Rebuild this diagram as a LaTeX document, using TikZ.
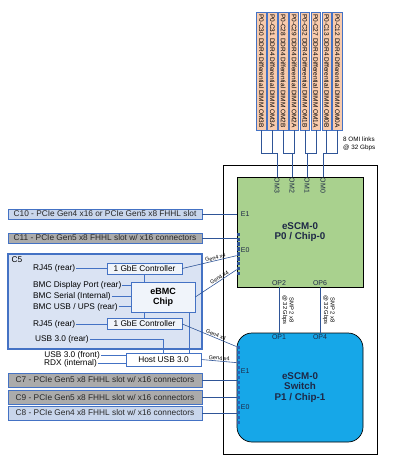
\documentclass[tikz,border=0pt]{standalone}
\usepackage{fontspec}
\setmainfont{Liberation Sans}
\usetikzlibrary{calc}
\definecolor{wireblue}{RGB}{47,85,151}
\definecolor{boxblue}{RGB}{68,114,196}
\definecolor{slotblue}{RGB}{201,214,236}
\definecolor{cfiveblue}{RGB}{218,227,243}
\definecolor{slotgray}{RGB}{171,171,171}
\definecolor{dimmpeach}{RGB}{248,203,173}
\definecolor{chipgreen}{RGB}{169,209,142}
\definecolor{chipcyan}{RGB}{22,167,232}
\definecolor{chiptext}{RGB}{30,40,70}
\definecolor{pinblue}{RGB}{46,84,150}
\definecolor{pincyan}{RGB}{40,100,180}
\tikzset{
  slotbox/.style={draw=boxblue, line width=0.8pt, minimum width=194pt, inner sep=0pt,
    font=\fontsize{8.3}{9}\selectfont, text=black!85},
  ctrlbox/.style={draw=boxblue, line width=0.6pt, fill=cfiveblue!40!white, minimum width=75pt,
    minimum height=11pt, inner sep=0pt, font=\fontsize{8.3}{9}\selectfont},
  txt/.style={inner sep=1pt, font=\fontsize{8.3}{9}\selectfont},
  bline/.style={draw=boxblue, line width=0.6pt},
  wire/.style={draw=wireblue, line width=0.6pt},
  dimm/.style={draw=boxblue, line width=0.7pt, fill=dimmpeach, rotate=-90, minimum width=118pt,
    minimum height=9.5pt, inner sep=0pt, font=\fontsize{6.5}{7}\selectfont},
  chipbox/.style={draw=black, line width=0.7pt, minimum width=126pt, align=center,
    text=chiptext, font=\bfseries\fontsize{9.8}{10.5}\selectfont},
  pinlbl/.style={inner sep=1pt, text=chiptext, font=\fontsize{7}{8}\selectfont},
  omlbl/.style={rotate=-90, inner sep=1pt, text=chiptext, font=\fontsize{7}{8}\selectfont},
  smplbl/.style={rotate=-90, align=center, inner sep=2.5pt, font=\fontsize{5.8}{6.6}\selectfont},
  genlbl/.style={inner sep=0.6pt, font=\fontsize{5.5}{6}\selectfont},
}
\begin{document}
\begin{tikzpicture}[x=1pt, y=-1pt]
\useasboundingbox (0,0) rectangle (401,462);

% eSCM module frame and the two chips
\draw[black, line width=0.8pt] (223,165) rectangle (377,454);
\node[chipbox, fill=chipgreen, minimum height=110pt] (chip0) at (300,232) {eSCM-0\\P0 / Chip-0};
\node[chipbox, fill=chipcyan, minimum height=109pt, rounded corners=15pt] (chip1) at (300,387.5)
  {eSCM-0\\Switch\\P1 / Chip-1};

% pin stripes on the left edges
\foreach \k in {0,...,8}
  \fill[pinblue] ($(chip0.north west)+(0,56+4.9*\k)$) rectangle ++(3.6,3.4);
\foreach \k in {0,...,15}
  \fill[pincyan] ($(chip1.north west)+(0,13+5*\k)$) rectangle ++(3.2,3.4);

\node[pinlbl, anchor=west] (e1top) at ($(chip0.north west)+(3,37)$) {E1};
\node[pinlbl, anchor=west] (e0top) at ($(chip0.north west)+(3,73)$) {E0};
\node[pinlbl, anchor=west] (e1bot) at ($(chip1.north west)+(3,38)$) {E1};
\node[pinlbl, anchor=west] (e0bot) at ($(chip1.north west)+(3,74)$) {E0};

\node[pinlbl, anchor=south] (op2) at (279,287) {OP2};
\node[pinlbl, anchor=south] (op6) at (320,287) {OP6};
\node[pinlbl, anchor=north] (op1) at (279,333) {OP1};
\node[pinlbl, anchor=north] (op4) at (320,333) {OP4};

% SMP links
\draw[wire] (op2.south) -- (op1.north) node[smplbl, midway, anchor=south] {SMP 2 x8\\@ 32 Gbps};
\draw[wire] (op6.south) -- (op4.north) node[smplbl, midway, anchor=south] {SMP 2 x8\\@ 32 Gbps};

% DIMMs
\foreach \lbl [count=\i from 0] in {P0-C30 DDR4 Differential DIMM OM3B, P0-C31 DDR4 Differential DIMM OM3A,
    P0-C28 DDR4 Differential DIMM OM2B, P0-C29 DDR4 Differential DIMM OM2A,
    P0-C32 DDR4 Differential DIMM OM1B, P0-C27 DDR4 Differential DIMM OM1A,
    P0-C13 DDR4 Differential DIMM OM0B, P0-C12 DDR4 Differential DIMM OM0A}
  \node[dimm] (d\i) at (261.5+10.86*\i,71) {\lbl};

% OMI links
\foreach \a/\b/\x/\om in {0/1/277/3, 2/3/292/2, 4/5/307/1, 6/7/323/0} {
  \coordinate (j\om) at (\x,153);
  \node[omlbl, anchor=west] (om\om) at (j\om |- chip0.north) {OM\om};
  \draw[wire] (d\a.east) |- (j\om) (d\b.east) |- (j\om) (j\om) -- (om\om.west);
}
\node[txt, anchor=west, align=left, font=\fontsize{6.3}{8}\selectfont] (omilbl) at (342,144)
  {8 OMI links\\@ 32 Gbps};

% PCIe slots
\node[slotbox, fill=slotblue, minimum height=10pt] (c10) at (105,214)
  {C10 - PCIe Gen4 x16 or PCIe Gen5 x8 FHHL slot};
\node[slotbox, fill=slotgray, minimum height=10pt] (c11) at (105,238)
  {C11 - PCIe Gen5 x8 FHHL slot w/ x16 connectors};
\node[slotbox, fill=slotgray, minimum height=14pt] (c7) at (105,380)
  {C7 - PCIe Gen5 x8 FHHL slot w/ x16 connectors};
\node[slotbox, fill=slotgray, minimum height=13.5pt] (c9) at (105,397.5)
  {C9 - PCIe Gen5 x8 FHHL slot w/ x16 connectors};
\node[slotbox, fill=slotblue, minimum height=14pt] (c8) at (105,413)
  {C8 - PCIe Gen4 x8 FHHL slot w/ x16 connectors};

\draw[wire] (c10.east) -- (c10.east -| chip0.west);
\draw[wire] (c11.east) -- (c11.east -| chip0.west);
\draw[wire] (c7.east) -- (c7.east -| chip1.west);
\draw[wire] (c9.east) -- (c9.east -| chip1.west);
\draw[wire] (c8.east) -- (c8.east -| chip1.west);

% C5 block
\node[draw=boxblue, line width=1.2pt, fill=cfiveblue, minimum width=194pt, minimum height=95pt] (c5)
  at (105,301.5) {};
\node[txt, anchor=north west] (c5lbl) at ([shift={(3pt,-2pt)}]c5.north west) {C5};

\node[ctrlbox] (gbeA) at (144.5,268.5) {1 GbE Controller};
\node[ctrlbox, minimum width=64pt, minimum height=30pt, align=center,
  font=\bfseries\fontsize{9}{10}\selectfont] (ebmc) at (163,297) {eBMC\\Chip};
\node[ctrlbox] (gbeB) at (144.5,324) {1 GbE Controller};
\node[ctrlbox, fill=white, minimum height=13pt] (host) at (163.5,359.5) {Host USB 3.0};

\node[txt, anchor=west] (rjA) at (32,268.5) {RJ45 (rear)};
\node[txt, anchor=west] (dport) at (32,285) {BMC Display Port (rear)};
\node[txt, anchor=west] (serial) at (32,296) {BMC Serial (Internal)};
\node[txt, anchor=west] (bmcusb) at (32,307) {BMC USB / UPS (rear)};
\node[txt, anchor=west] (rjB) at (32,324) {RJ45 (rear)};
\node[txt, anchor=west] (usbr) at (34,339) {USB 3.0 (rear)};
\node[txt, anchor=east] (usbf) at (101,355) {USB 3.0 (front)};
\node[txt, anchor=east] (rdx) at (98,363) {RDX (internal)};

\draw[bline] (rjA.east) -- (gbeA.west);
\draw[bline] (rjB.east) -- (gbeB.west);
\draw[bline] (dport.east) -- (dport.east -| ebmc.west);
\draw[bline] (serial.east) -- (serial.east -| ebmc.west);
\draw[bline, double=cfiveblue, double distance=0.6pt, line width=0.4pt] (bmcusb.east) -- (bmcusb.east -| ebmc.west);
\draw[bline] (gbeA.south) -- (gbeA.south |- ebmc.north);
\draw[bline] (gbeB.north |- ebmc.south) -- (gbeB.north);
\draw[bline] (usbr.east) -| (host.north);
\draw[bline] ([xshift=26pt]ebmc.south) -- ([xshift=26pt]ebmc.south |- host.north);
\draw[bline] (usbf.east) -- (usbf.east -| host.west);
\draw[bline] (rdx.east) -- (rdx.east -| host.west);

% Gen4 x4 links
\draw[wire] (gbeA.east) -- ([yshift=-79pt]chip0.north west)
  node[genlbl, pos=0.62, sloped, above] {Gen4 x4};
\draw[wire] (ebmc.east) -- ([yshift=-93pt]chip0.north west)
  node[genlbl, pos=0.62, sloped, above] {Gen4 x4};
\draw[wire] (gbeB.east) -- ([yshift=-14pt]chip1.north west)
  node[genlbl, pos=0.6, sloped, above] {Gen4 x4};
\draw[wire] (host.east) -- ([yshift=-30pt]chip1.north west)
  node[genlbl, pos=0.5, sloped, above] {Gen4 x4};

\end{tikzpicture}
\end{document}
